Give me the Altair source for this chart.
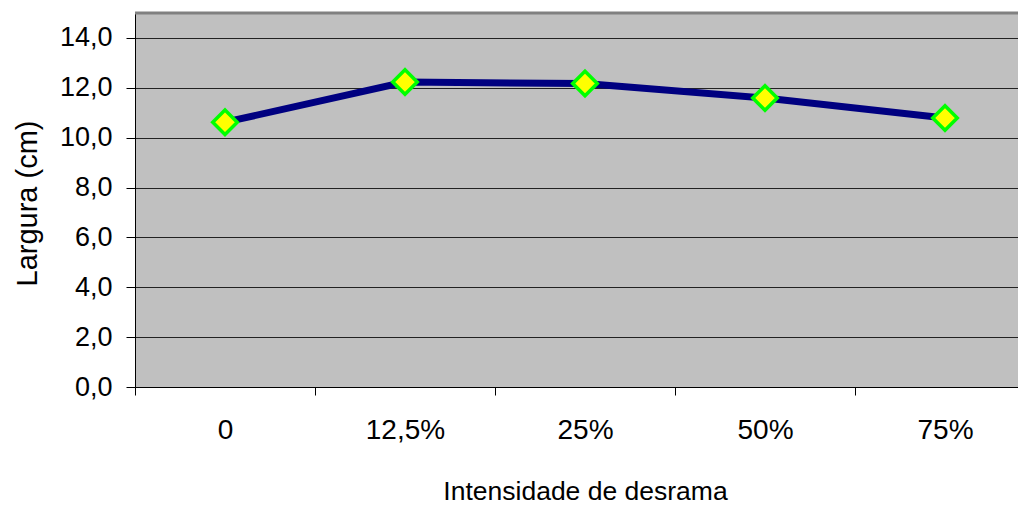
import altair as alt
import pandas as pd

categories = ["0", "12,5%", "25%", "50%", "75%"]
largura = [10.62, 12.23, 12.17, 11.59, 10.79]

df = pd.DataFrame({"cat": categories, "val": largura})

FONT = "Liberation Sans"

x_enc = alt.X(
    "cat:N",
    sort=categories,
    scale=alt.Scale(range=[0, 900], paddingInner=0, paddingOuter=0),
    axis=alt.Axis(
        title="Intensidade de desrama",
        labelAngle=0,
        tickBand="extent",
        tickSize=8,
        tickColor="black",
        domainColor="black",
        labelPadding=21,
        titlePadding=34,
        labelFontSize=28,
        titleFontSize=26.5,
        labelColor="black",
        titleColor="black",
        titleFontWeight="normal",
        grid=False,
    ),
)

y_enc = alt.Y(
    "val:Q",
    scale=alt.Scale(domain=[0, 15], nice=False),
    axis=alt.Axis(
        title="Largura (cm)",
        values=[0, 2, 4, 6, 8, 10, 12, 14],
        labelExpr="replace(format(datum.value, '.1f'), '.', ',')",
        tickSize=9,
        tickColor="black",
        domainColor="black",
        labelPadding=14,
        labelFontSize=27,
        titleFontSize=29,
        titleAngle=270,
        titleX=-99,
        titleY=190,
        titleAlign="center",
        titleBaseline="alphabetic",
        labelColor="black",
        titleColor="black",
        titleFontWeight="normal",
        grid=True,
        gridColor="#222222",
        gridWidth=1,
    ),
)

base = alt.Chart(df)

line = base.mark_line(color="#000080", strokeWidth=7).encode(x=x_enc, y=y_enc)
points = base.mark_point(
    shape="diamond", filled=True, fill="#FFFF00", stroke="#00FF00",
    strokeWidth=3.5, size=600, opacity=1
).encode(x=x_enc, y=y_enc)

top_border = alt.Chart(pd.DataFrame({"v": [15]})).mark_rule(
    color="#808080", strokeWidth=3
).encode(y=alt.Y("v:Q", scale=alt.Scale(domain=[0, 15], nice=False)))

chart = (
    alt.layer(top_border, line, points)
    .properties(
        width=883,
        height=374,
        padding={"left": 127, "top": 5, "right": 0, "bottom": 119},
        autosize=alt.AutoSizeParams(type="none"),
        background="white",
    )
    .configure_view(fill="#C0C0C0", strokeWidth=0)
    .configure_axis(labelFont=FONT, titleFont=FONT)
)

chart.save("out.html", embed_options={"renderer": "svg", "actions": False})
